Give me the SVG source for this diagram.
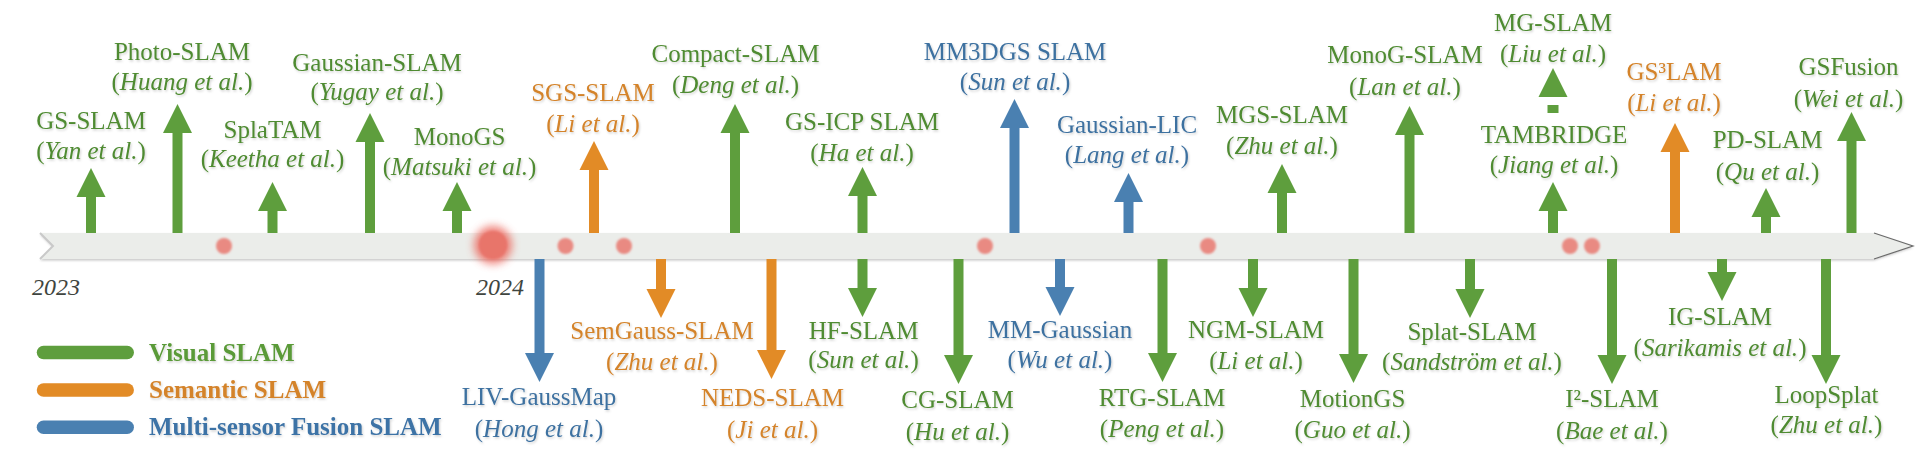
<svg xmlns="http://www.w3.org/2000/svg" width="1926" height="465" viewBox="0 0 1926 465" font-family="Liberation Serif, Tinos, Times New Roman, DejaVu Serif, serif">
<defs>
<style>
text{font-size:25px;}
.lb{text-anchor:middle;filter:url(#sh);}
.i{font-style:italic;}
.tg{fill:#4f8b32;}
.to{fill:#d4832a;}
.tb{fill:#3e71a0;}
.ag{fill:#5e9e3d;}
.ao{fill:#e28b26;}
.ab{fill:#4a80b1;}
.yr{font-style:italic;fill:#3f4540;font-size:24px;}
.lg{font-weight:bold;filter:url(#sh);}
.dot{fill:#e98a82;filter:url(#soft);}
</style>
<filter id="sh" x="-10%" y="-40%" width="120%" height="180%">
<feDropShadow dx="1" dy="1.5" stdDeviation="1" flood-color="#000" flood-opacity="0.18"/>
</filter>
<filter id="soft" x="-50%" y="-50%" width="200%" height="200%">
<feGaussianBlur stdDeviation="0.8"/>
</filter>
<filter id="glow" x="-80%" y="-80%" width="260%" height="260%">
<feGaussianBlur stdDeviation="4"/>
</filter>
<filter id="barsh" x="-2%" y="-50%" width="104%" height="200%">
<feDropShadow dx="0" dy="1.5" stdDeviation="1.2" flood-color="#000" flood-opacity="0.22"/>
</filter>
</defs>
<rect width="1926" height="465" fill="#ffffff"/>

<g id="timeline">
<polygon points="40,233 1874,233 1913,246 1874,259 40,259 53,246" fill="#ebedea" filter="url(#barsh)"/>
<polyline points="40,233 53,246 40,259" fill="none" stroke="#c9c9c9" stroke-width="2"/>
<polyline points="1874,233 1913,246 1874,259" fill="none" stroke="#6b6b6b" stroke-width="1.2"/>
<circle class="dot" cx="224" cy="246" r="8"/>
<circle class="dot" cx="565.5" cy="246" r="8"/>
<circle class="dot" cx="624" cy="246" r="8"/>
<circle class="dot" cx="985" cy="246" r="8"/>
<circle class="dot" cx="1208" cy="246" r="8"/>
<circle class="dot" cx="1570" cy="246" r="8"/>
<circle class="dot" cx="1592" cy="246" r="8"/>
<circle cx="493" cy="245" r="19" fill="#ec6a60" opacity="0.85" filter="url(#glow)"/>
<circle cx="493" cy="245" r="14" fill="#e8756b" filter="url(#soft)"/>
<text class="yr" x="32" y="295">2023</text>
<text class="yr" x="476" y="295">2024</text>
</g>

<g id="connectors">
<polygon class="ag" points="86,233 86,197 76.5,197 91,168 105.5,197 96,197 96,233"/>
<polygon class="ag" points="172.5,233 172.5,133 163,133 177.5,104 192,133 182.5,133 182.5,233"/>
<polygon class="ag" points="267.5,233 267.5,211 258,211 272.5,182 287,211 277.5,211 277.5,233"/>
<polygon class="ag" points="365,233 365,142 355.5,142 370,113 384.5,142 375,142 375,233"/>
<polygon class="ag" points="452,233 452,211 442.5,211 457,182 471.5,211 462,211 462,233"/>
<polygon class="ao" points="589,233 589,170 579.5,170 594,141 608.5,170 599,170 599,233"/>
<polygon class="ag" points="730,233 730,133 720.5,133 735,104 749.5,133 740,133 740,233"/>
<polygon class="ag" points="857.5,233 857.5,196 848,196 862.5,167 877,196 867.5,196 867.5,233"/>
<polygon class="ab" points="1009.5,233 1009.5,128 1000,128 1014.5,99 1029,128 1019.5,128 1019.5,233"/>
<polygon class="ab" points="1123.5,233 1123.5,202 1114,202 1128.5,173 1143,202 1133.5,202 1133.5,233"/>
<polygon class="ag" points="1277,233 1277,193 1267.5,193 1282,164 1296.5,193 1287,193 1287,233"/>
<polygon class="ag" points="1404.5,233 1404.5,135 1395,135 1409.5,106 1424,135 1414.5,135 1414.5,233"/>
<polygon class="ag" points="1538.5,97 1553,68 1567.5,97"/>
<rect class="ag" x="1547.5" y="105" width="11" height="8"/>
<polygon class="ag" points="1548,233 1548,211 1538.5,211 1553,182 1567.5,211 1558,211 1558,233"/>
<polygon class="ao" points="1670,233 1670,152 1660.5,152 1675,123 1689.5,152 1680,152 1680,233"/>
<polygon class="ag" points="1761,233 1761,217 1751.5,217 1766,188 1780.5,217 1771,217 1771,233"/>
<polygon class="ag" points="1846.5,233 1846.5,141 1837,141 1851.5,112 1866,141 1856.5,141 1856.5,233"/>
<polygon class="ab" points="534.5,259 534.5,353 525,353 539.5,382 554,353 544.5,353 544.5,259"/>
<polygon class="ao" points="656,259 656,289 646.5,289 661,318 675.5,289 666,289 666,259"/>
<polygon class="ao" points="766.5,259 766.5,350 757,350 771.5,379 786,350 776.5,350 776.5,259"/>
<polygon class="ag" points="857.5,259 857.5,288 848,288 862.5,317 877,288 867.5,288 867.5,259"/>
<polygon class="ag" points="953.5,259 953.5,355 944,355 958.5,384 973,355 963.5,355 963.5,259"/>
<polygon class="ab" points="1055,259 1055,287 1045.5,287 1060,316 1074.5,287 1065,287 1065,259"/>
<polygon class="ag" points="1157.5,259 1157.5,353 1148,353 1162.5,382 1177,353 1167.5,353 1167.5,259"/>
<polygon class="ag" points="1248,259 1248,288 1238.5,288 1253,317 1267.5,288 1258,288 1258,259"/>
<polygon class="ag" points="1348.5,259 1348.5,354 1339,354 1353.5,383 1368,354 1358.5,354 1358.5,259"/>
<polygon class="ag" points="1465,259 1465,289 1455.5,289 1470,318 1484.5,289 1475,289 1475,259"/>
<polygon class="ag" points="1607,259 1607,355 1597.5,355 1612,384 1626.5,355 1617,355 1617,259"/>
<polygon class="ag" points="1717,259 1717,272 1707.5,272 1722,301 1736.5,272 1727,272 1727,259"/>
<polygon class="ag" points="1821,259 1821,355 1811.5,355 1826,384 1840.5,355 1831,355 1831,259"/>
</g>

<g id="n-gs-slam"><text class="lb tg" x="91" y="129">GS-SLAM</text><text class="lb tg" x="91" y="159">(<tspan class="i">Yan et al.</tspan>)</text></g>
<g id="n-photo-slam"><text class="lb tg" x="182" y="60">Photo-SLAM</text><text class="lb tg" x="182" y="90">(<tspan class="i">Huang et al.</tspan>)</text></g>
<g id="n-splatam"><text class="lb tg" x="272.5" y="138">SplaTAM</text><text class="lb tg" x="272.5" y="167">(<tspan class="i">Keetha et al.</tspan>)</text></g>
<g id="n-gaussian-slam"><text class="lb tg" x="377" y="71">Gaussian-SLAM</text><text class="lb tg" x="377" y="100">(<tspan class="i">Yugay et al.</tspan>)</text></g>
<g id="n-monogs"><text class="lb tg" x="459.5" y="145">MonoGS</text><text class="lb tg" x="459.5" y="175">(<tspan class="i">Matsuki et al.</tspan>)</text></g>
<g id="n-sgs-slam"><text class="lb to" x="593" y="101">SGS-SLAM</text><text class="lb to" x="593" y="132">(<tspan class="i">Li et al.</tspan>)</text></g>
<g id="n-compact-slam"><text class="lb tg" x="735.5" y="62">Compact-SLAM</text><text class="lb tg" x="735.5" y="93">(<tspan class="i">Deng et al.</tspan>)</text></g>
<g id="n-gs-icp-slam"><text class="lb tg" x="862" y="130">GS-ICP SLAM</text><text class="lb tg" x="862" y="161">(<tspan class="i">Ha et al.</tspan>)</text></g>
<g id="n-mm3dgs-slam"><text class="lb tb" x="1015" y="60">MM3DGS SLAM</text><text class="lb tb" x="1015" y="90">(<tspan class="i">Sun et al.</tspan>)</text></g>
<g id="n-gaussian-lic"><text class="lb tb" x="1127" y="133">Gaussian-LIC</text><text class="lb tb" x="1127" y="163">(<tspan class="i">Lang et al.</tspan>)</text></g>
<g id="n-mgs-slam"><text class="lb tg" x="1282" y="123">MGS-SLAM</text><text class="lb tg" x="1282" y="154">(<tspan class="i">Zhu et al.</tspan>)</text></g>
<g id="n-monog-slam"><text class="lb tg" x="1405" y="63">MonoG-SLAM</text><text class="lb tg" x="1405" y="95">(<tspan class="i">Lan et al.</tspan>)</text></g>
<g id="n-mg-slam"><text class="lb tg" x="1553" y="31">MG-SLAM</text><text class="lb tg" x="1553" y="62">(<tspan class="i">Liu et al.</tspan>)</text></g>
<g id="n-tambridge"><text class="lb tg" x="1554" y="143">TAMBRIDGE</text><text class="lb tg" x="1554" y="173">(<tspan class="i">Jiang et al.</tspan>)</text></g>
<g id="n-gs3lam"><text class="lb to" x="1674" y="80">GS³LAM</text><text class="lb to" x="1674" y="111">(<tspan class="i">Li et al.</tspan>)</text></g>
<g id="n-pd-slam"><text class="lb tg" x="1767.5" y="148">PD-SLAM</text><text class="lb tg" x="1767.5" y="180">(<tspan class="i">Qu et al.</tspan>)</text></g>
<g id="n-gsfusion"><text class="lb tg" x="1848.5" y="75">GSFusion</text><text class="lb tg" x="1848.5" y="107">(<tspan class="i">Wei et al.</tspan>)</text></g>

<g id="n-liv-gaussmap"><text class="lb tb" x="539" y="405">LIV-GaussMap</text><text class="lb tb" x="539" y="437">(<tspan class="i">Hong et al.</tspan>)</text></g>
<g id="n-semgauss-slam"><text class="lb to" x="662" y="339">SemGauss-SLAM</text><text class="lb to" x="662" y="370">(<tspan class="i">Zhu et al.</tspan>)</text></g>
<g id="n-neds-slam"><text class="lb to" x="772.5" y="406">NEDS-SLAM</text><text class="lb to" x="772.5" y="438">(<tspan class="i">Ji et al.</tspan>)</text></g>
<g id="n-hf-slam"><text class="lb tg" x="863.5" y="339">HF-SLAM</text><text class="lb tg" x="863.5" y="368">(<tspan class="i">Sun et al.</tspan>)</text></g>
<g id="n-cg-slam"><text class="lb tg" x="957.5" y="408">CG-SLAM</text><text class="lb tg" x="957.5" y="440">(<tspan class="i">Hu et al.</tspan>)</text></g>
<g id="n-mm-gaussian"><text class="lb tb" x="1060" y="338">MM-Gaussian</text><text class="lb tb" x="1060" y="368">(<tspan class="i">Wu et al.</tspan>)</text></g>
<g id="n-rtg-slam"><text class="lb tg" x="1162" y="406">RTG-SLAM</text><text class="lb tg" x="1162" y="437">(<tspan class="i">Peng et al.</tspan>)</text></g>
<g id="n-ngm-slam"><text class="lb tg" x="1256" y="338">NGM-SLAM</text><text class="lb tg" x="1256" y="369">(<tspan class="i">Li et al.</tspan>)</text></g>
<g id="n-motiongs"><text class="lb tg" x="1352.5" y="407">MotionGS</text><text class="lb tg" x="1352.5" y="438">(<tspan class="i">Guo et al.</tspan>)</text></g>
<g id="n-splat-slam"><text class="lb tg" x="1472" y="340">Splat-SLAM</text><text class="lb tg" x="1472" y="370">(<tspan class="i">Sandström et al.</tspan>)</text></g>
<g id="n-i2-slam"><text class="lb tg" x="1612" y="407">I²-SLAM</text><text class="lb tg" x="1612" y="439">(<tspan class="i">Bae et al.</tspan>)</text></g>
<g id="n-ig-slam"><text class="lb tg" x="1720" y="325">IG-SLAM</text><text class="lb tg" x="1720" y="356">(<tspan class="i">Sarikamis et al.</tspan>)</text></g>
<g id="n-loopsplat"><text class="lb tg" x="1826.5" y="403">LoopSplat</text><text class="lb tg" x="1826.5" y="433">(<tspan class="i">Zhu et al.</tspan>)</text></g>

<g id="legend">
<line x1="43.5" y1="352.5" x2="127.2" y2="352.5" stroke="#5e9e3d" stroke-width="13.5" stroke-linecap="round"/>
<line x1="43.5" y1="390" x2="127.2" y2="390" stroke="#e28b26" stroke-width="13.5" stroke-linecap="round"/>
<line x1="43.5" y1="427.3" x2="127.2" y2="427.3" stroke="#4a80b1" stroke-width="13.5" stroke-linecap="round"/>
<text class="lg" x="149" y="361" fill="#5a9a38">Visual SLAM</text>
<text class="lg" x="149" y="398" fill="#d4832a">Semantic SLAM</text>
<text class="lg" x="149" y="435" fill="#3e73a6">Multi-sensor Fusion SLAM</text>
</g>
</svg>
